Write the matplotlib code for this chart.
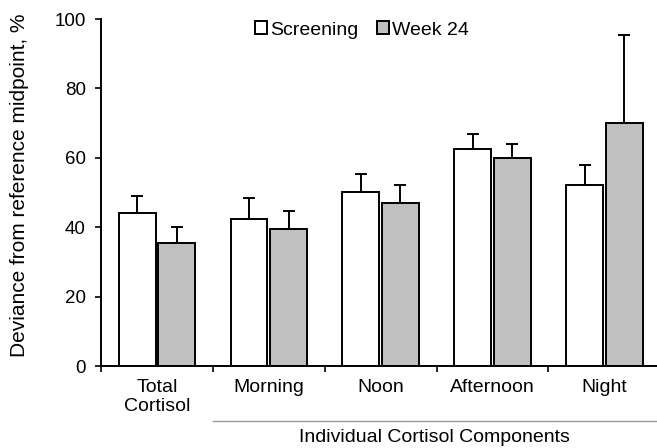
import matplotlib
matplotlib.use("Agg")
import matplotlib.pyplot as plt
import numpy as np

plt.rcParams['font.family'] = ['Liberation Sans', 'DejaVu Sans']

categories = ["Total\nCortisol", "Morning", "Noon", "Afternoon", "Night"]
screening = [44.0, 42.5, 50.0, 62.4, 52.1]
screening_err = [5.0, 6.0, 5.2, 4.4, 5.8]
week24 = [35.5, 39.6, 47.1, 60.0, 70.0]
week24_err = [4.5, 5.0, 5.2, 4.0, 25.3]
yticks = [0, 20, 40, 60, 80, 100]

W, H = 657, 448
fig = plt.figure(figsize=(W / 100, H / 100), dpi=100)
ax = fig.add_axes([101 / W, 1 - 366 / H, 1 - 101 / W, (366 - 19) / H])

x = np.arange(len(categories))
bw = 0.33
off = 0.177
ekw = dict(ecolor='black', elinewidth=1.4, capsize=4.0, capthick=1.4)
ax.bar(x - off, screening, bw, color='white', edgecolor='black', linewidth=1.4,
       yerr=[np.zeros(len(x)), screening_err], error_kw=ekw, label='Screening', zorder=2)
ax.bar(x + off, week24, bw, color='#c0c0c0', edgecolor='black', linewidth=1.4,
       yerr=[np.zeros(len(x)), week24_err], error_kw=ekw, label='Week 24', zorder=2)

ax.set_xlim(-0.5, 4.47)
ax.set_ylim(0, 100)
ax.set_yticks(yticks)
ax.tick_params(axis='y', direction='out', length=4, width=1.2, pad=7, labelsize=13.5)
ax.set_xticks(np.arange(-0.5, 4.0, 1.0))
ax.set_xticklabels([])
ax.tick_params(axis='x', which='major', direction='out', length=4, width=1.2)
ax.set_xticks(x, minor=True)
ax.set_xticklabels(categories, minor=True, fontsize=14)
ax.tick_params(axis='x', which='minor', length=0, pad=9)
for s in ['top', 'right']:
    ax.spines[s].set_visible(False)
for s in ['left', 'bottom']:
    ax.spines[s].set_linewidth(1.4)

# group line and label
tr = ax.get_xaxis_transform()
ax.plot([0.5, 4.47], [-0.1585, -0.1585], transform=tr, color='#999999', lw=1.0, clip_on=False)
ax.text((0.5 + 4.47) / 2, -0.207, "Individual Cortisol Components", transform=tr,
        ha='center', va='center', fontsize=14)

fig.text(19.5 / W, 1 - 185 / H, "Deviance from reference midpoint, %", rotation=90,
         ha='center', va='center', fontsize=15)

fig.legend(loc='center', bbox_to_anchor=(362 / W, 1 - 30 / H), ncol=2, frameon=False,
           fontsize=14, handlelength=0.6, handleheight=0.6, handletextpad=0.15,
           columnspacing=1.0, borderpad=0.1)

fig.savefig("out.png", dpi=100)
